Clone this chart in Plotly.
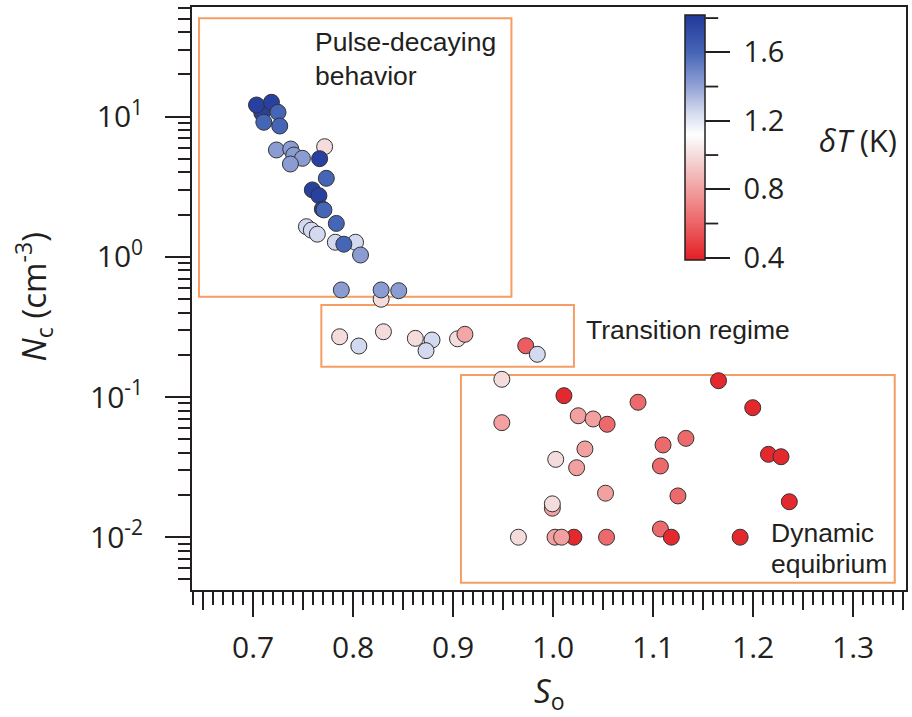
import plotly.graph_objects as go

# ---------------- data ----------------
S_O = [0.7087, 0.7034, 0.7183, 0.7249, 0.7107, 0.7266,
       0.7233, 0.7376, 0.7406, 0.7493, 0.7373, 0.7715, 0.7665, 0.7732,
       0.7592, 0.7658, 0.7692, 0.7708, 0.7832, 0.7533, 0.7582, 0.7642,
       0.7822, 0.8024, 0.7907, 0.8074, 0.7882, 0.8280, 0.8280, 0.8456,
       0.7865, 0.8057, 0.8303, 0.8622, 0.8789, 0.8729, 0.9044, 0.9118,
       0.9726, 0.9842,
       0.9487, 1.0108, 1.0849, 1.1654, 1.1996, 0.9487, 1.0251, 1.0400,
       1.0540, 1.1099, 1.1328, 1.0318, 1.0026, 1.0235, 1.1073, 1.2153,
       1.2279, 1.0524, 1.1248, 1.2362, 0.9992, 0.9992, 0.9653, 1.0208,
       1.0019, 1.0085, 1.0534, 1.1073, 1.1182, 1.1870]
N_C = [10.6, 12.1, 12.65, 10.73, 9.11, 8.57,
       5.78, 5.87, 5.32, 5.04, 4.59, 6.10, 5.01, 3.63,
       3.00, 2.73, 2.19, 2.16, 1.73, 1.64, 1.55, 1.45,
       1.27, 1.27, 1.23, 1.03, 0.580, 0.498, 0.580, 0.573,
       0.269, 0.231, 0.292, 0.262, 0.255, 0.214, 0.260, 0.280,
       0.232, 0.2016,
       0.1337, 0.1022, 0.0917, 0.1307, 0.0839, 0.0656, 0.0735, 0.0697,
       0.0639, 0.0455, 0.0507, 0.0426, 0.0359, 0.0313, 0.0322, 0.0390,
       0.0375, 0.0206, 0.0197, 0.0179, 0.0161, 0.0173, 0.0100, 0.0100,
       0.0100, 0.0100, 0.0100, 0.01144, 0.0100, 0.0100]
DELTA_T = [1.78, 1.78, 1.78, 1.60, 1.60, 1.60,
           1.42, 1.42, 1.42, 1.42, 1.42, 1.00, 1.78, 1.60,
           1.78, 1.78, 1.78, 1.60, 1.60, 1.25, 1.25, 1.25,
           1.25, 1.25, 1.60, 1.42, 1.42, 1.00, 1.42, 1.42,
           1.00, 1.25, 1.00, 1.00, 1.25, 1.25, 1.00, 0.82,
           0.58, 1.25,
           1.00, 0.42, 0.62, 0.42, 0.42, 0.80, 0.80, 0.80,
           0.62, 0.62, 0.62, 0.80, 1.00, 0.80, 0.62, 0.42,
           0.42, 0.80, 0.62, 0.42, 0.80, 1.00, 1.00, 0.42,
           0.80, 0.80, 0.62, 0.62, 0.42, 0.42]

X_TICKS = [0.7, 0.8, 0.9, 1.0, 1.1, 1.2, 1.3]
X_MID_TICKS = [0.65, 0.75, 0.85, 0.95, 1.05, 1.15, 1.25, 1.35]
Y_TICKS = [0.01, 0.1, 1, 10]
Y_TICK_TEXT = ["10<sup>-2</sup>", "10<sup>-1</sup>", "10<sup>0</sup>", "10<sup>1</sup>"]
CB_TICKS = [0.4, 0.8, 1.2, 1.6]
CB_MINOR = [0.6, 1.0, 1.4, 1.8]
C_MIN, C_MAX = 0.387, 1.818

# regions: (S left, S right, Nc bottom, Nc top)
REGIONS = [(0.6459, 0.9583, 0.519, 50.2),
           (0.7682, 1.0208, 0.1645, 0.453),
           (0.9078, 1.3416, 0.00474, 0.1435)]

LABELS = [("Pulse-decaying", 313, 42), ("behavior", 313, 76),
          ("Transition regime", 585, 330), ("Dynamic", 771, 533),
          ("equibrium", 771, 564)]

# ---------------- layout geometry ----------------
W, H = 912, 717
L, R, T, B = 192, 4, 7, 127
PW, PH = W - L - R, H - T - B
INK = "#231f20"
ORANGE = "#f59d62"
FONT = "Open Sans"


def pxx(x):
    return (x - L) / PW


def pxy(y):
    return (H - B - y) / PH


colorscale = [
    [0.0, "#e31e24"],
    [0.149, "#ec6466"],
    [0.289, "#f2a0a0"],
    [0.428, "#f4dcdc"],
    [0.512, "#ffffff"],
    [0.603, "#d3d9ee"],
    [0.708, "#93a2d6"],
    [0.848, "#4565b6"],
    [1.0, "#22389a"],
]

CB_LEFT, CB_TOP, CB_THICK, CB_LEN = 686.7, 15, 20, 245

fig = go.Figure()
fig.add_trace(go.Scatter(
    x=S_O, y=N_C, mode="markers",
    marker=dict(
        size=16, color=DELTA_T, colorscale=colorscale, cmin=C_MIN, cmax=C_MAX,
        line=dict(color="#333333", width=1),
        colorbar=dict(
            x=pxx(CB_LEFT), xanchor="left", y=pxy(CB_TOP), yanchor="top",
            len=CB_LEN / PH, lenmode="fraction", thickness=CB_THICK,
            thicknessmode="pixels", xpad=0, ypad=0,
            outlinewidth=1.5, outlinecolor=INK,
            tickmode="array", tickvals=CB_TICKS,
            ticktext=["\u00a0" + f"{v:.1f}" for v in CB_TICKS],
            ticks="outside", ticklen=25, tickwidth=1.8, tickcolor=INK,
            tickfont=dict(family=FONT, size=29, color=INK),
        ),
    ),
    showlegend=False, hoverinfo="skip",
))

shapes = []
for (x0, x1, y0, y1) in REGIONS:
    shapes.append(dict(type="rect", xref="x", yref="y", x0=x0, x1=x1, y0=y0, y1=y1,
                       line=dict(color=ORANGE, width=2), layer="below"))
# minor ticks of colour bar
for v in CB_MINOR:
    yp = CB_TOP + CB_LEN - (v - C_MIN) / (C_MAX - C_MIN) * CB_LEN
    shapes.append(dict(type="line", xref="paper", yref="paper",
                       x0=pxx(CB_LEFT + CB_THICK), x1=pxx(CB_LEFT + CB_THICK + 13),
                       y0=pxy(yp), y1=pxy(yp), line=dict(color=INK, width=1.8)))

annotations = []
for txt, xp, yp in LABELS:
    annotations.append(dict(text=txt, xref="paper", yref="paper", x=pxx(xp), y=pxy(yp),
                            xanchor="left", yanchor="middle", showarrow=False,
                            font=dict(family="Liberation Sans", size=26.5, color=INK)))
annotations.append(dict(text="<i>δT</i> (K)", xref="paper", yref="paper",
                        x=pxx(860), y=pxy(140), xanchor="center", yanchor="middle",
                        showarrow=False, font=dict(family=FONT, size=31, color=INK)))
annotations.append(dict(text="<i>N</i><sub>c</sub> (cm<sup>-3</sup>)", xref="paper", yref="paper",
                        x=pxx(33), y=pxy(297), xanchor="center", yanchor="middle",
                        textangle=-90, showarrow=False,
                        font=dict(family=FONT, size=33, color=INK)))
annotations.append(dict(text="<i>S</i><sub>o</sub>", xref="paper", yref="paper",
                        x=pxx(550), y=pxy(692), xanchor="center", yanchor="middle",
                        showarrow=False, font=dict(family=FONT, size=33, color=INK)))

Y_MINOR = [m * 10.0 ** e for e in range(-3, 2) for m in range(2, 10)]

fig.update_layout(
    width=W, height=H, margin=dict(l=L, r=R, t=T, b=B),
    paper_bgcolor="white", plot_bgcolor="white",
    shapes=shapes, annotations=annotations,
    xaxis=dict(
        range=[0.63887, 1.35287], tickmode="array", tickvals=X_TICKS,
        ticktext=[f"{v:.1f}" for v in X_TICKS],
        ticks="outside", ticklen=25, tickwidth=1.8, tickcolor=INK,
        showline=True, linecolor=INK, linewidth=1.8, mirror=True,
        showgrid=False, zeroline=False, ticklabelstandoff=5,
        tickfont=dict(family=FONT, size=30, color=INK),
        minor=dict(ticks="outside", ticklen=13, tickwidth=1.8, tickcolor=INK,
                   dtick=0.01, tick0=0.0, showgrid=False),
    ),
    xaxis2=dict(
        range=[0.63887, 1.35287], overlaying="x", anchor="y", side="bottom",
        tickmode="array", tickvals=X_MID_TICKS, showticklabels=False,
        ticks="outside", ticklen=19, tickwidth=1.8, tickcolor=INK,
        showline=False, showgrid=False, zeroline=False,
    ),
    yaxis=dict(
        type="log", range=[-2.3766, 1.7817], tickmode="array", tickvals=Y_TICKS,
        ticktext=Y_TICK_TEXT,
        ticks="outside", ticklen=25, tickwidth=1.8, tickcolor=INK,
        showline=True, linecolor=INK, linewidth=1.8, mirror=True,
        showgrid=False, zeroline=False, ticklabelstandoff=16,
        tickfont=dict(family=FONT, size=30, color=INK),
        minor=dict(ticks="outside", ticklen=12, tickwidth=1.8, tickcolor=INK,
                   tickmode="array", tickvals=Y_MINOR, showgrid=False),
    ),
)
# invisible trace that activates the overlaid axis carrying the 0.05 ticks
fig.add_trace(go.Scatter(x=[None], y=[None], xaxis="x2", yaxis="y", showlegend=False,
                         hoverinfo="skip"))

fig.write_html("out.html")
